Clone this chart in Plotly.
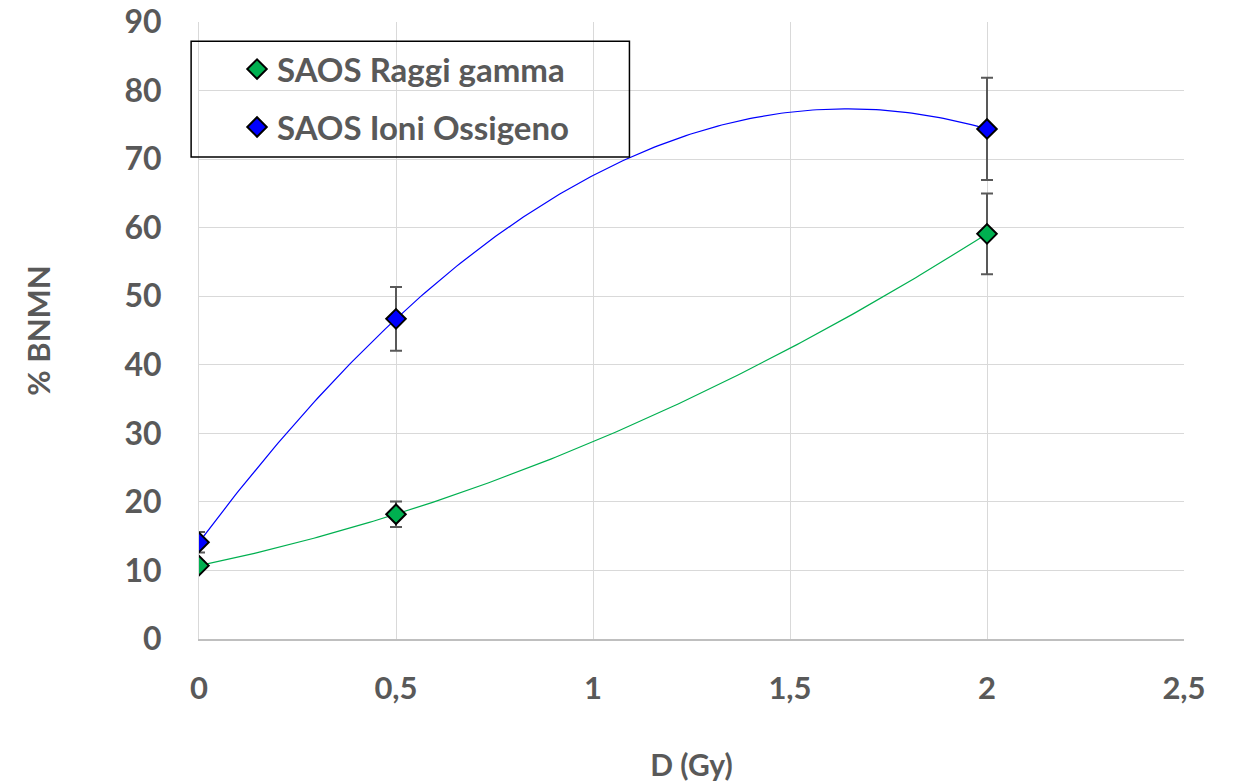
import numpy as np
import plotly.graph_objects as go

# ---- data ----
dose = [0, 0.5, 2]
gamma_vals = [10.7, 18.2, 59.1]
gamma_err = [0.6, 1.85, 5.9]
oxygen_vals = [14.1, 46.7, 74.4]
oxygen_err = [1.5, 4.65, 7.45]
series_names = ["SAOS Raggi gamma", "SAOS Ioni Ossigeno"]
x_ticks = [0, 0.5, 1, 1.5, 2, 2.5]
y_ticks = [0, 10, 20, 30, 40, 50, 60, 70, 80, 90]

GREEN = "#00B050"
BLUE = "#0000FF"
GREY_TXT = "#595959"
FONT = "Lato"

fig = go.Figure()

# polynomial (order 2) trendlines fitted from the data
xs = np.linspace(0, 2, 200)
for vals, col in [(gamma_vals, GREEN), (oxygen_vals, BLUE)]:
    coef = np.polyfit(dose, vals, 2)
    fig.add_trace(go.Scatter(x=xs, y=np.polyval(coef, xs), mode="lines",
                             line=dict(color=col, width=1.2), showlegend=False,
                             hoverinfo="skip"))

for name, vals, err, col, grp in [(series_names[0], gamma_vals, gamma_err, GREEN, "g"),
                                   (series_names[1], oxygen_vals, oxygen_err, BLUE, "o")]:
    fig.add_trace(go.Scatter(
        x=dose, y=vals, mode="markers", name=name, legendgroup=grp,
        marker=dict(symbol="diamond", size=15, color=col,
                    line=dict(color="black", width=2)),
        error_y=dict(type="data", array=err, visible=True, color="#595959",
                     thickness=2, width=6),
    ))

fig.add_shape(type="rect", xref="paper", yref="paper",
              x0=-0.008, x1=0.437, y0=0.781, y1=0.969,
              line=dict(color="black", width=1.5), fillcolor="rgba(0,0,0,0)")

fig.update_layout(
    width=1233, height=782,
    margin=dict(l=199, r=49, t=22, b=143),
    paper_bgcolor="white", plot_bgcolor="white",
    separators=", ",
    font=dict(family=FONT, color=GREY_TXT, size=24),
    legend=dict(x=0.0386, y=0.969, xanchor="left", yanchor="top",
                bgcolor="rgba(0,0,0,0)", borderwidth=0,
                font=dict(family=FONT, size=33, color=GREY_TXT, weight="bold"),
                tracegroupgap=12, itemwidth=30),
    xaxis=dict(range=[0, 2.5], tickvals=x_ticks, showgrid=True, automargin=False,
               gridcolor="#D9D9D9", gridwidth=1, zeroline=False,
               showline=True, linecolor="#BFBFBF", linewidth=1.5,
               ticks="", ticklabelstandoff=21, ticklabeloverflow="allow",
               tickfont=dict(family=FONT, size=31, color=GREY_TXT, weight="bold"),
               title=dict(text="D (Gy)", standoff=50,
                          font=dict(family=FONT, size=30, color=GREY_TXT, weight="bold"))),
    yaxis=dict(range=[0, 90], tickvals=y_ticks, showgrid=True, automargin=False,
               gridcolor="#D9D9D9", gridwidth=1, zeroline=False,
               showline=True, linecolor="#D9D9D9", linewidth=1,
               ticks="", ticklabelstandoff=30, ticklabeloverflow="allow",
               tickfont=dict(family=FONT, size=32, color=GREY_TXT, weight="bold"),
               title=dict(text="% BNMN", standoff=64,
                          font=dict(family=FONT, size=31, color=GREY_TXT, weight="bold"))),
)

fig.write_html("out.html", config={"displayModeBar": False},
               post_script="document.body.style.margin='0';document.body.style.overflow='hidden';")
